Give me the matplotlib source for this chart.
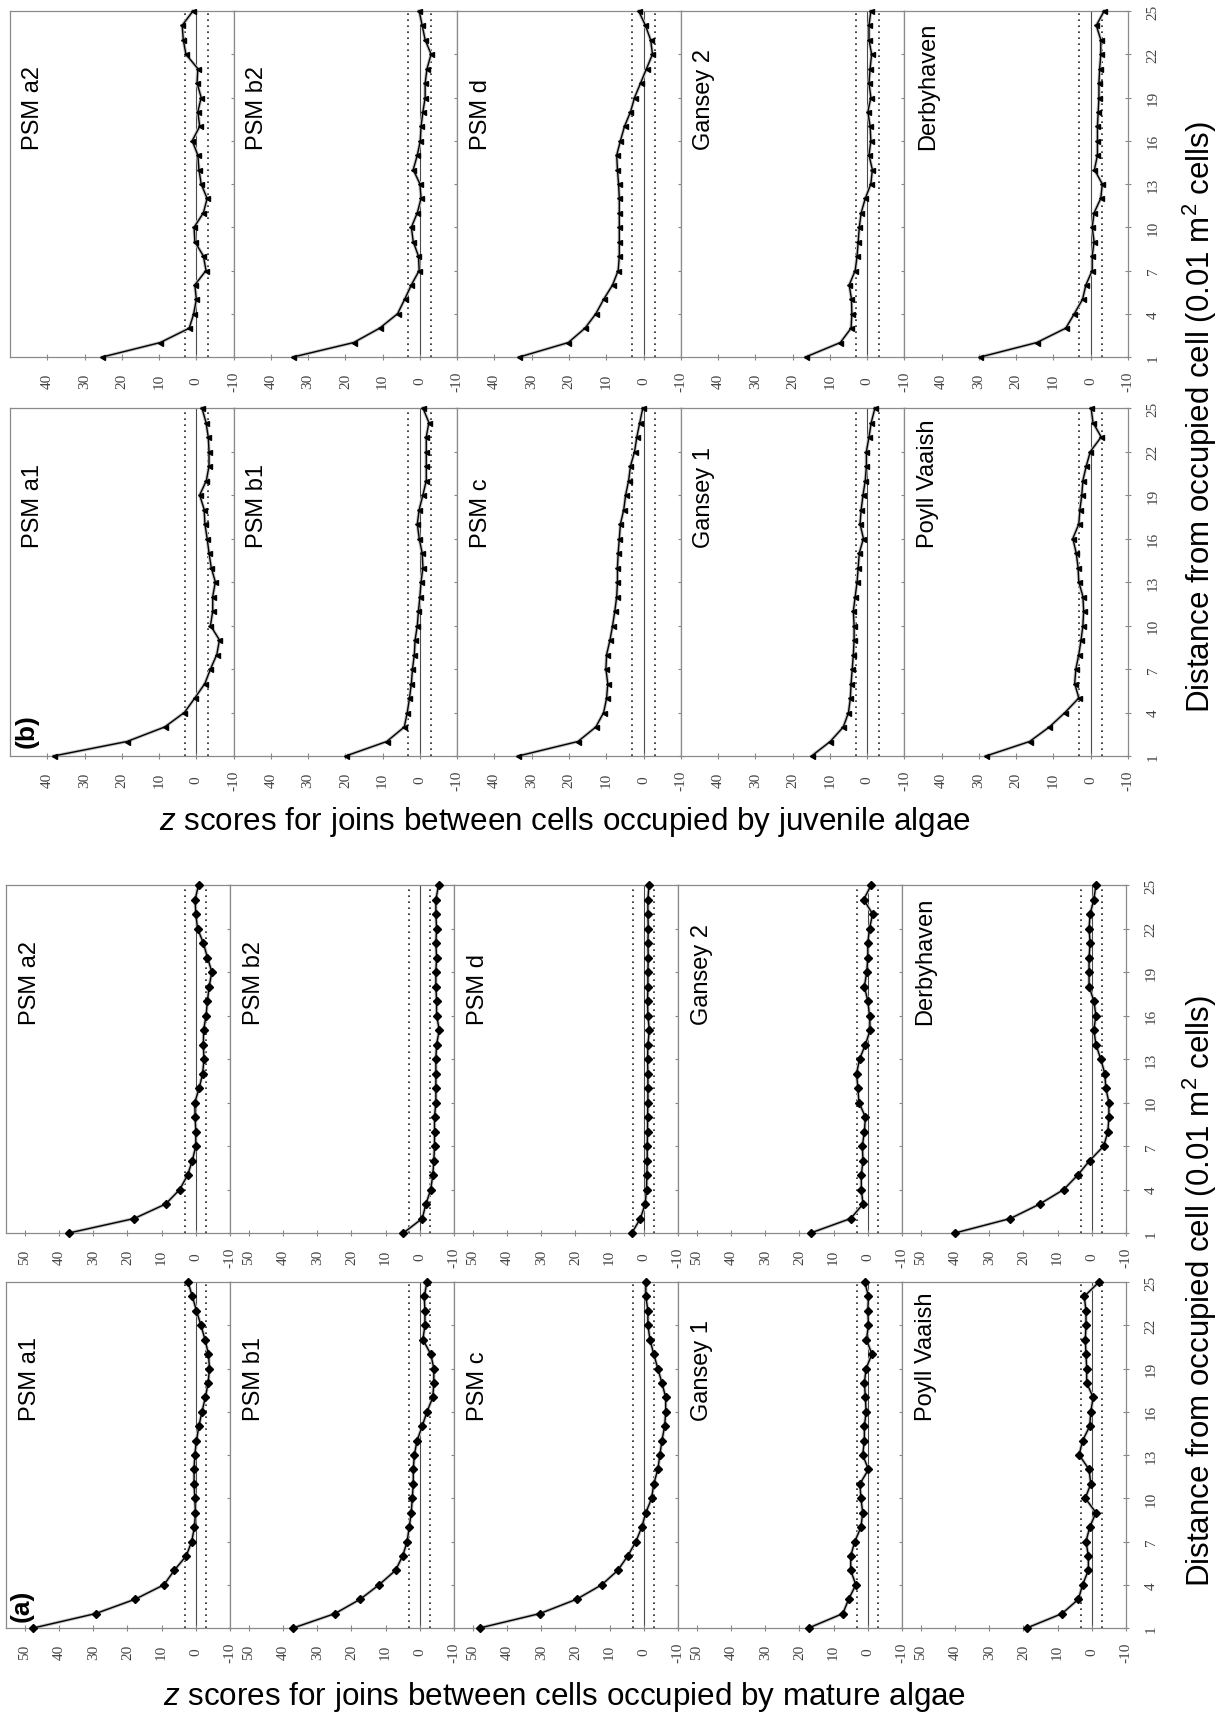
import numpy as np
import matplotlib
matplotlib.use('Agg')
import matplotlib.pyplot as plt
from matplotlib import font_manager

plt.rcParams['mathtext.fontset'] = 'custom'
plt.rcParams['mathtext.rm'] = 'Liberation Sans'
plt.rcParams['mathtext.it'] = 'Liberation Sans:italic'

W, H = 1225, 1715

# distance classes (0.01 m2 cells)
distance = np.arange(1, 26)
dist_ticks = [1, 4, 7, 10, 13, 16, 19, 22, 25]

upper_sites = ['PSM a2', 'PSM b2', 'PSM d', 'Gansey 2', 'Derbyhaven']
lower_sites = ['PSM a1', 'PSM b1', 'PSM c', 'Gansey 1', 'Poyll Vaaish']

mature_ticks = [50, 40, 30, 20, 10, 0, -10]
juvenile_ticks = [40, 30, 20, 10, 0, -10]

# (a) mature algae, z scores per distance
mat_a1 = [47.5, 29.3, 17.7, 9.3, 6.3, 2.8, 1.2, 0.4, 0.1, 0.3, 0.5, 0.5, 0.3,
          -0.2, -0.9, -1.8, -2.8, -3.6, -4.0, -3.7, -2.7, -1.5, -0.2, 1.0, 2.3]
mat_a2 = [37.1, 18.0, 8.8, 4.7, 2.4, 1.0, 0.0, 0.0, 0.2, 0.3, -1.0, -2.0, -2.4,
          -2.2, -2.3, -3.0, -3.4, -3.9, -4.7, -3.4, -2.2, -0.5, 0.0, 0.2, -0.8]
mat_b1 = [37.0, 24.8, 17.4, 11.9, 7.1, 5.0, 3.7, 3.1, 2.5, 2.2, 1.9, 1.9, 1.6,
          0.8, -0.7, -2.1, -3.8, -4.1, -4.1, -3.2, -0.9, -1.5, -1.5, -1.3, -2.1]
mat_b2 = [4.8, -0.7, -1.8, -3.2, -3.8, -4.1, -4.3, -4.3, -4.3, -4.7, -4.7, -4.7, -4.7,
          -4.9, -5.7, -4.9, -4.9, -4.7, -4.7, -4.9, -4.7, -4.9, -4.7, -4.7, -5.5]
mat_c = [48.0, 30.4, 19.6, 12.3, 7.6, 4.7, 2.3, 0.6, -0.6, -2.3, -2.9, -4.1, -4.7,
         -5.3, -6.1, -6.4, -6.4, -5.3, -4.1, -2.9, -1.8, -1.2, -1.2, -0.6, -0.6]
mat_d = [3.5, 1.0, -0.4, -0.8, -0.9, -1.0, -1.0, -1.1, -1.1, -1.2, -1.2, -1.2, -1.1,
         -1.2, -1.6, -1.2, -1.1, -1.2, -1.2, -1.3, -1.2, -1.3, -1.2, -1.2, -1.5]
mat_g1 = [17.3, 7.3, 5.6, 3.5, 5.0, 5.0, 3.8, 2.0, 1.5, 2.0, 2.3, -0.2, 1.5,
          1.0, 1.0, 0.5, 0.7, 1.0, 0.5, -1.2, 0.4, -0.2, 0.0, -0.2, 0.9]
mat_g2 = [16.7, 5.0, 1.4, 1.9, 1.9, 1.4, 1.6, 1.0, 0.7, 2.6, 2.9, 3.3, 2.4,
          0.7, -0.7, -0.5, 0.0, 1.0, 0.3, 0.0, 0.0, -0.5, -1.4, 1.2, -1.0]
mat_pv = [19.0, 8.7, 3.9, 2.7, 1.0, 1.0, 1.7, 0.6, -1.2, 1.9, 0.3, 0.8, 3.7,
          2.7, 0.6, 0.3, -0.4, 1.5, 1.5, 1.7, 1.9, 1.7, 1.7, 2.2, -2.1]
mat_dh = [40.0, 23.8, 15.2, 8.2, 4.1, 0.6, -3.5, -4.7, -5.0, -5.0, -4.1, -3.8, -2.6,
          -1.2, -0.6, -1.2, -0.6, 0.8, 0.8, 0.8, 0.5, 0.8, 0.5, -0.6, -1.2]

# (b) juvenile algae
juv_a1 = [38.3, 18.6, 8.5, 3.2, 0.4, -2.3, -3.8, -5.5, -6.2, -3.8, -4.4, -4.4, -5.1,
          -4.0, -3.4, -2.9, -2.3, -2.1, -0.9, -2.7, -3.4, -3.4, -3.2, -2.6, -1.5]
juv_a2 = [25.2, 9.7, 1.9, 0.7, 0.0, 0.4, -2.6, -1.9, 0.4, 0.6, -1.9, -2.9, -1.3,
          -0.7, -0.4, 1.1, -0.9, -0.4, -1.3, -0.2, -0.4, 2.8, 3.5, 3.8, 0.9]
juv_b1 = [19.9, 8.9, 4.2, 3.4, 2.8, 2.3, 2.0, 1.5, 1.3, 0.7, 0.4, 0.0, -0.3,
          -0.8, -0.6, 0.2, 0.7, 0.2, -0.8, -1.7, -1.7, -1.7, -1.7, -2.4, -0.8]
juv_b2 = [34.0, 17.8, 10.8, 6.0, 4.1, 2.3, 0.2, 0.4, 1.8, 2.3, 0.7, -0.3, 0.0,
          1.8, 0.7, -0.1, -0.3, -0.8, -1.4, -1.4, -1.9, -3.0, -1.4, -0.6, 0.2]
juv_c = [33.6, 17.6, 12.8, 10.7, 9.9, 9.6, 10.1, 9.9, 9.0, 8.3, 7.7, 7.2, 7.0,
         7.0, 6.8, 6.5, 6.2, 5.3, 4.8, 4.0, 3.5, 2.4, 1.8, 1.0, 0.2]
juv_d = [33.3, 20.2, 15.7, 12.8, 10.7, 8.3, 6.8, 6.5, 6.5, 6.5, 6.5, 6.5, 6.7,
         7.0, 7.2, 6.2, 5.1, 3.5, 2.4, 0.8, -0.8, -2.4, -1.9, -0.5, 1.3]
juv_g1 = [14.9, 9.9, 6.4, 5.0, 4.5, 4.3, 4.0, 3.7, 3.5, 3.5, 3.7, 3.2, 2.7,
          2.4, 2.1, 1.0, 1.9, 1.6, 1.1, 0.5, 0.2, 0.2, -0.5, -1.1, -2.1]
juv_g2 = [16.5, 7.2, 4.3, 4.1, 4.2, 4.8, 3.2, 2.7, 2.4, 2.1, 1.6, 0.5, -1.0,
          -1.4, -0.5, -1.0, -0.8, -0.2, -1.0, -0.5, -0.8, -1.2, -0.5, -0.5, -1.0]
juv_pv = [28.1, 16.4, 11.1, 6.9, 3.2, 4.3, 4.0, 3.2, 2.6, 2.1, 1.9, 2.1, 3.2,
          3.4, 3.9, 4.8, 3.2, 2.9, 2.4, 2.1, 1.2, 0.1, -2.8, -0.6, -0.1]
juv_dh = [29.6, 14.5, 6.7, 4.4, 2.2, 1.3, -0.4, -0.4, -0.9, -0.4, -0.9, -2.7, -3.1,
          -1.0, -1.8, -1.8, -1.8, -2.0, -2.2, -2.2, -2.4, -2.7, -2.7, -1.5, -3.6]

mature = {'PSM a1': mat_a1, 'PSM a2': mat_a2, 'PSM b1': mat_b1, 'PSM b2': mat_b2,
          'PSM c': mat_c, 'PSM d': mat_d, 'Gansey 1': mat_g1, 'Gansey 2': mat_g2,
          'Poyll Vaaish': mat_pv, 'Derbyhaven': mat_dh}
juvenile = {'PSM a1': juv_a1, 'PSM a2': juv_a2, 'PSM b1': juv_b1, 'PSM b2': juv_b2,
            'PSM c': juv_c, 'PSM d': juv_d, 'Gansey 1': juv_g1, 'Gansey 2': juv_g2,
            'Poyll Vaaish': juv_pv, 'Derbyhaven': juv_dh}

crit = 3.09  # dotted critical lines

# site labels are in a narrow sans; fall back to a smaller regular one
installed = {f.name for f in font_manager.fontManager.ttflist}
if 'Liberation Sans Narrow' in installed:
    label_font, label_size = 'Liberation Sans Narrow', 20.5
else:
    label_font, label_size = 'Liberation Sans', 17
serif = ['Liberation Serif', 'DejaVu Serif']

fig = plt.figure(figsize=(W / 100, H / 100), dpi=100)


def px_axes(left, top, width, height):
    return fig.add_axes([left / W, 1 - (top + height) / H, width / W, height / H])


def draw_panel(ax, vals, name, xmax, zticks, marker, msize, last):
    ax.set_xlim(xmax, -10)
    ax.set_ylim(1, 25)
    ax.axvline(0, color='#4a4a4a', lw=0.8, zorder=1)
    for c in (crit, -crit):
        ax.axvline(c, color='#222222', ls=(0, (1, 2.6)), lw=1.2, zorder=1)
    ax.plot(vals, distance, color='#c4c4c4', lw=2.4, zorder=2, clip_on=False)
    ax.plot(vals, distance, color='black', lw=1.0, marker=marker, ms=msize,
            zorder=3, clip_on=False)
    for s in ax.spines.values():
        s.set_color('#8a8a8a')
        s.set_linewidth(0.9)
    ax.set_xticks(zticks)
    ax.set_xticklabels([str(t) for t in zticks], family=serif, fontsize=11,
                       color='#444444', rotation=90, va='center')
    ax.tick_params(axis='x', direction='inout', length=4, color='#888888', pad=15)
    ax.yaxis.set_ticks_position('right')
    ax.set_yticks(dist_ticks)
    ax.tick_params(axis='y', direction='inout', length=4, color='#888888',
                   labelright=last, labelleft=False, pad=16)
    if last:
        ax.set_yticklabels([str(t) for t in dist_ticks], family=serif, fontsize=11,
                           color='#444444', rotation=90, ha='center', va='center')
    ax.text(0.105, 0.6, name, transform=ax.transAxes, rotation=90, ha='center',
            va='bottom', fontsize=label_size, family=label_font)


# (a) mature, bottom half
for k in range(5):
    left = 6 + 224 * k
    ax = px_axes(left, 886, 224, 348)
    draw_panel(ax, mature[upper_sites[k]], upper_sites[k], 55.5, mature_ticks,
               'D', 4.5, k == 4)
    ax = px_axes(left, 1283, 224, 346)
    draw_panel(ax, mature[lower_sites[k]], lower_sites[k], 55.5, mature_ticks,
               'D', 4.5, k == 4)
    if k == 0:
        ax.text(0.07, 0.02, '(a)', transform=ax.transAxes, rotation=90, ha='center',
                va='bottom', fontsize=19, fontweight='bold', family='Liberation Sans')

# (b) juvenile, top half
for k in range(5):
    left = 10 + 223.6 * k
    ax = px_axes(left, 12, 223.6, 346)
    draw_panel(ax, juvenile[upper_sites[k]], upper_sites[k], 50, juvenile_ticks,
               '<', 3.6, k == 4)
    ax = px_axes(left, 409, 223.6, 348)
    draw_panel(ax, juvenile[lower_sites[k]], lower_sites[k], 50, juvenile_ticks,
               '<', 3.6, k == 4)
    if k == 0:
        ax.text(0.076, 0.026, '(b)', transform=ax.transAxes, rotation=90, ha='center',
                va='bottom', fontsize=19, fontweight='bold', family='Liberation Sans')

fig.text(565 / W, 1 - 1697 / H, r'$z$ scores for joins between cells occupied by mature algae',
         ha='center', va='center', fontsize=22.6, family='Liberation Sans')
fig.text(565 / W, 1 - 822 / H, r'$z$ scores for joins between cells occupied by juvenile algae',
         ha='center', va='center', fontsize=22.6, family='Liberation Sans')
for yc in (417, 1291):
    fig.text(1200 / W, 1 - yc / H, r'Distance from occupied cell (0.01 m$^2$ cells)',
             rotation=90, ha='center', va='center', fontsize=22.5, family='Liberation Sans')

fig.savefig('out.png', dpi=100)
